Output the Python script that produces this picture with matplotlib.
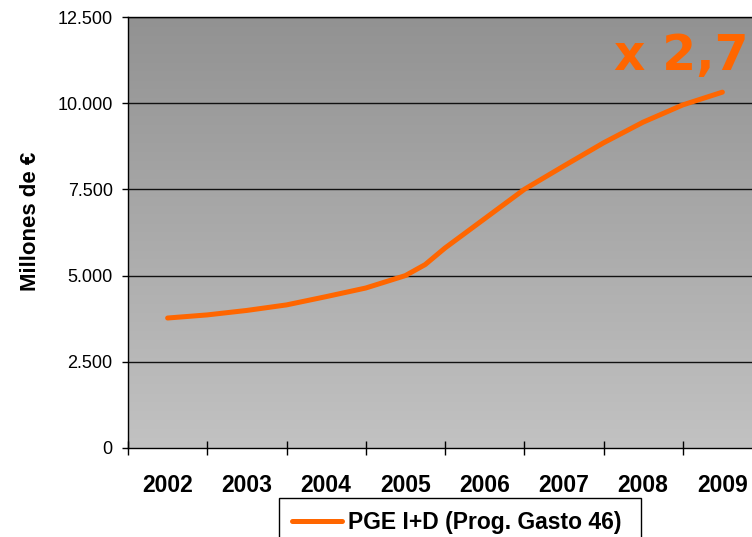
import matplotlib
matplotlib.use("Agg")
import matplotlib.pyplot as plt
import matplotlib.ticker as mticker
from matplotlib.colors import LinearSegmentedColormap
import numpy as np

# Data
years = ["2002", "2003", "2004", "2005", "2006", "2007", "2008", "2009"]
# positions along the category axis (0 = 2002 ... 7 = 2009) and values in millions of euros
pos = [0.0, 0.5, 1.0, 1.5, 2.0, 2.5, 3.0, 3.25, 3.5, 4.0, 4.5, 5.0, 5.5, 6.0, 6.5, 7.0]
values = [3770, 3860, 3990, 4150, 4390, 4640, 5000, 5320, 5800, 6650, 7500, 8180,
          8850, 9450, 9950, 10320]
y_ticks = [0, 2500, 5000, 7500, 10000, 12500]
series_name = "PGE I+D (Prog. Gasto 46)"
annotation = "x 2,7"
ylabel = "Millones de €"

ORANGE = "#FF6600"
W, H = 752, 537
fig = plt.figure(figsize=(W / 100, H / 100), dpi=100)
plt.rcParams["font.family"] = ["Liberation Sans", "DejaVu Sans"]

left, right, top, bottom = 128, 762, 17, 448
ax = fig.add_axes([left / W, 1 - bottom / H, (right - left) / W, (bottom - top) / H])

# gradient background (dark at top, light at bottom)
grad = np.linspace(0, 1, 256).reshape(-1, 1)
cmap = LinearSegmentedColormap.from_list("g", ["#929292", "#C2C2C2"])
ax.imshow(grad, aspect="auto", cmap=cmap, extent=[0, 1, 0, 1], origin="upper",
          transform=ax.transAxes, zorder=0)

ax.set_xlim(-0.5, 7.5)
ax.set_ylim(0, 12500)

for yv in y_ticks[1:]:
    ax.axhline(yv, color="#111111", lw=1.0, zorder=1)

ax.plot(pos, values, color=ORANGE, lw=3.6, solid_capstyle="round",
        solid_joinstyle="round", zorder=3, label=series_name)

# axes styling
for s in ["top", "left", "bottom"]:
    ax.spines[s].set_color("black")
    ax.spines[s].set_linewidth(1.0)
ax.spines["right"].set_visible(False)

ax.set_yticks(y_ticks)
ax.yaxis.set_major_formatter(mticker.FuncFormatter(lambda v, p: f"{int(v):,}".replace(",", ".")))
ax.tick_params(axis="y", direction="out", length=4.5, width=1, pad=6.5,
               labelsize=13, colors="black")

ax.set_xticks(range(len(years)))
ax.set_xticklabels(years, fontsize=16.5, fontweight="bold")
ax.set_xticks(np.arange(-0.5, 8.0, 1.0), minor=True)
ax.tick_params(axis="x", which="major", length=0, pad=19)
ax.tick_params(axis="x", which="minor", direction="inout", length=9.5, width=1)

ax.set_ylabel(ylabel, fontsize=16, fontweight="bold")
ax.yaxis.set_label_coords((30 - left) / (right - left), (bottom - 221.5) / (bottom - top))
ax.yaxis.label.set_verticalalignment("center")

fig.text(748 / W, 1 - 70 / H, annotation, color=ORANGE, fontsize=35,
         fontweight="bold", family="DejaVu Sans", ha="right", va="baseline")

leg = fig.legend(loc="upper left",
                 bbox_to_anchor=(279 / W, 1 - 498 / H, 362 / W, 0),
                 mode="expand",
                 prop={"size": 16.5, "weight": "bold"}, handlelength=2.2,
                 handletextpad=0.25, borderpad=0.55, borderaxespad=0,
                 fancybox=False, frameon=True, framealpha=1, edgecolor="black")
leg.get_frame().set_linewidth(1.0)

fig.savefig("out.png", dpi=100)
